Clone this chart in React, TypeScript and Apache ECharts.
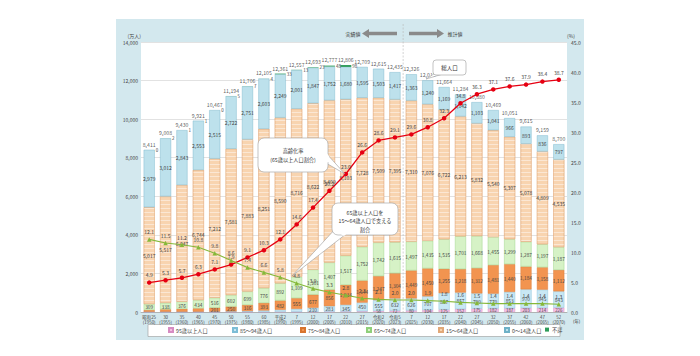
import React, { useEffect, useRef } from 'react';
import * as echarts from 'echarts';

const categories = [
  '昭和25\n(1950)', '30\n(1955)', '35\n(1960)', '40\n(1965)', '45\n(1970)', '50\n(1975)',
  '55\n(1980)', '60\n(1985)', '平成2\n(1990)', '7\n(1995)', '12\n(2000)', '17\n(2005)',
  '22\n(2010)', '27\n(2015)', '令和2\n(2020)', '令和5\n(2023)', '7\n(2025)', '12\n(2030)',
  '17\n(2035)', '22\n(2040)', '27\n(2045)', '32\n(2050)', '37\n(2055)', '42\n(2060)',
  '47\n(2065)', '52\n(2070)',
];

const age95plus = [0, 0, 0, 0, 1, 1, 2, 3, 5, 9, 13, 21, 28, 38, 58, 72, 80, 104, 125, 152, 175, 182, 187, 203, 214, 226];
const age85to94 = [10, 12, 14, 17, 22, 33, 48, 75, 110, 153, 210, 283, 345, 450, 555, 632, 626, 707, 857, 857, 790, 770, 853, 970, 945, 843];
const age75to84 = [96, 127, 149, 172, 201, 250, 316, 393, 482, 555, 677, 856, 1034, 1144, 1247, 1304, 1449, 1450, 1255, 1218, 1312, 1481, 1440, 1184, 1158, 1112];
const age65to74 = [309, 338, 376, 434, 516, 602, 699, 776, 892, 1109, 1301, 1407, 1517, 1752, 1742, 1615, 1497, 1435, 1535, 1701, 1668, 1455, 1299, 1287, 1197, 1187];
const age15to64 = [5017, 5517, 6047, 6744, 7212, 7581, 7883, 8251, 8590, 8716, 8622, 8409, 8103, 7728, 7509, 7395, 7310, 7076, 6722, 6213, 5832, 5540, 5307, 5078, 4809, 4535];
const age0to14 = [2979, 3012, 2843, 2553, 2515, 2722, 2751, 2603, 2249, 2001, 1847, 1752, 1680, 1595, 1503, 1417, 1363, 1240, 1169, 1142, 1103, 1041, 966, 893, 836, 797];
const ageUnknown = [0, 2, 1, 1, 0, 5, 7, 4, 33, 13, 23, 48, 98, 0, 0, 0, 0, 0, 0, 0, 0, 0, 0, 0, 0, 0];
const totals = [8411, 9008, 9430, 9921, 10467, 11194, 11706, 12105, 12361, 12557, 12693, 12777, 12806, 12709, 12615, 12435, 12326, 12012, 11664, 11284, 10880, 10469, 10051, 9615, 9159, 8700];
const agingRate = [4.9, 5.3, 5.7, 6.3, 7.1, 7.9, 9.1, 10.3, 12.1, 14.6, 17.4, 20.2, 23.0, 26.6, 28.6, 29.1, 29.6, 30.8, 32.3, 34.8, 36.3, 37.1, 37.6, 37.9, 38.4, 38.7];
const supportRatio = [12.1, 11.5, 11.2, 10.8, 9.8, 8.6, 7.4, 6.6, 5.8, 4.8, 3.9, 3.3, 2.8, 2.3, 2.1, 2.0, 2.0, 1.9, 1.8, 1.6, 1.5, 1.4, 1.4, 1.4, 1.4, 1.3];

const FONT = '"Noto Sans CJK JP", "Noto Sans", sans-serif';
const fmt = (v: number) => Number(v).toLocaleString('en-US');

function barSeries(name: string, data: number[], color: string, border: string, threshold: number, decal?: any, fontSize = 5) {
  return {
    name,
    type: 'bar',
    stack: 'pop',
    data,
    barWidth: 11,
    itemStyle: { color, borderColor: border, borderWidth: 0.4, decal },
    label: {
      show: true,
      position: 'inside',
      fontSize,
      color: '#444',
      fontFamily: FONT,
      formatter: (p: any) => (p.value >= threshold ? fmt(p.value) : ''),
    },
    emphasis: { disabled: true },
  };
}

export default function App() {
  const ref = useRef<HTMLDivElement>(null);

  useEffect(() => {
    document.body.style.margin = '0';
    const chart = echarts.init(ref.current as HTMLDivElement, null, { renderer: 'svg' });
    const legendNames = ['95歳以上人口', '85～94歳人口', '75～84歳人口', '65～74歳人口', '15～64歳人口', '0～14歳人口', '不詳'];
    const legendLefts = [168, 232, 300, 366, 438, 504, 545];
    const option: any = {
      animation: false,
      textStyle: { fontFamily: FONT },
      grid: { left: 141, right: 133, top: 42, bottom: 44, show: true, backgroundColor: '#ffffff', borderWidth: 0 },
      legend: legendNames.map((n, i) => ({
        data: [n],
        left: legendLefts[i],
        top: 327,
        itemWidth: 4,
        itemHeight: 4,
        itemGap: 2,
        icon: 'rect',
        padding: 0,
        z: 10,
        textStyle: { fontSize: 5.2, color: '#444', fontFamily: FONT, padding: [0, 0, 0, -2] },
      })),
      xAxis: {
        type: 'category',
        data: categories,
        axisTick: { show: false },
        axisLine: { show: true, lineStyle: { color: '#999', width: 0.6 } },
        axisLabel: { interval: 0, fontSize: 4.4, lineHeight: 5.5, color: '#444', margin: 2, fontFamily: FONT },
      },
      yAxis: [
        {
          type: 'value', min: 0, max: 14000, interval: 2000,
          name: '(万人)', nameLocation: 'end', nameGap: 4,
          nameTextStyle: { fontSize: 5, color: '#444', align: 'right', fontFamily: FONT },
          axisLine: { show: false }, axisTick: { show: false },
          axisLabel: { fontSize: 5, color: '#444', margin: 3, formatter: (v: number) => fmt(v) },
          splitLine: { lineStyle: { color: '#cfcfcf', width: 0.6 } },
        },
        {
          type: 'value', min: 0, max: 45, interval: 5,
          name: '(%)', nameLocation: 'end', nameGap: 4,
          nameTextStyle: { fontSize: 5, color: '#444', align: 'left', fontFamily: FONT },
          axisLine: { show: false }, axisTick: { show: false },
          axisLabel: { fontSize: 5, color: '#444', margin: 4, formatter: (v: number) => v.toFixed(1) },
          splitLine: { show: false },
        },
      ],
      series: [
        barSeries('95歳以上人口', age95plus, '#f4bfe4', '#d68cc2', 50, undefined, 4.4),
        barSeries('85～94歳人口', age85to94, '#c8e7f4', '#7cbdd6', 200, undefined, 4.8),
        barSeries('75～84歳人口', age75to84, '#f29450', '#d8742e', 200, undefined, 4.8),
        barSeries('65～74歳人口', age65to74, '#d6f2c6', '#8fcf7a', 200, undefined, 4.8),
        barSeries('15～64歳人口', age15to64, '#f8d4b0', '#e2a878', 200,
          { symbol: 'rect', symbolSize: 1, dashArrayX: [1, 0], dashArrayY: [1, 3], color: 'rgba(255,255,255,0.45)' }),
        barSeries('0～14歳人口', age0to14, '#bde1ec', '#6eb1c7', 200),
        {
          name: '不詳', type: 'bar', stack: 'pop', data: ageUnknown, barWidth: 11,
          itemStyle: { color: '#2e9b5a' },
          emphasis: { disabled: true },
          label: {
            show: true, position: 'right', distance: 1, fontSize: 4.5, color: '#444',
            formatter: (p: any) => (p.dataIndex <= 12 ? String(p.value) : ''),
          },
        },
        {
          name: '総人口', type: 'scatter', data: totals, symbolSize: 0, z: 5,
          label: { show: true, position: 'top', distance: 3, fontSize: 5.2, color: '#333', formatter: (p: any) => fmt(p.value) },
          emphasis: { disabled: true },
        },
        {
          name: '高齢化率', type: 'line', yAxisIndex: 1, data: agingRate, z: 6,
          symbol: 'circle', symbolSize: 4.5,
          lineStyle: { color: '#e60012', width: 1.3 },
          itemStyle: { color: '#e60012' },
          label: { show: true, position: 'top', distance: 3, fontSize: 5, color: '#444', formatter: (p: any) => p.value.toFixed(1) },
          emphasis: { disabled: true },
        },
        {
          name: '支える割合', type: 'line', yAxisIndex: 1, data: supportRatio, z: 6,
          symbol: 'triangle', symbolSize: 4.5,
          lineStyle: { color: '#86b83a', width: 1.1 },
          itemStyle: { color: '#86b83a' },
          label: { show: true, position: 'top', distance: 3, fontSize: 5, color: '#444', formatter: (p: any) => p.value.toFixed(1) },
          emphasis: { disabled: true },
        },
      ],
    };
    chart.setOption(option);

    const xa = chart.convertToPixel({ xAxisIndex: 0 }, categories[15]) as number;
    const xb = chart.convertToPixel({ xAxisIndex: 0 }, categories[16]) as number;
    const xd = (xa + xb) / 2;
    const yBot = chart.convertToPixel({ yAxisIndex: 0 }, 0) as number;
    const ay = 33.5;
    const gray = '#8a8a8a';
    const calloutStroke = '#9a9a9a';
    const txt = (x: number, y: number, s: string, size = 5.5, extra: any = {}) => ({
      type: 'text', x, y, z: 120,
      style: { text: s, fontSize: size, fill: '#333', fontFamily: FONT, align: 'center', verticalAlign: 'middle', ...extra },
    });

    chart.setOption({
      graphic: [
        { type: 'rect', z: -2, shape: { x: 116, y: 19, width: 468, height: 321 }, style: { fill: '#d3e8ee' } },
        { type: 'rect', z: -1, shape: { x: 148, y: 324.5, width: 412, height: 12 }, style: { fill: '#ffffff', stroke: '#999', lineWidth: 0.6 } },
        { type: 'line', z: 1, shape: { x1: xd, y1: 24, x2: xd, y2: yBot }, style: { stroke: '#b5b5b5', lineWidth: 0.6, lineDash: [2, 1.5] } },
        {
          type: 'polygon', z: 1,
          shape: { points: [[362, ay], [369, ay - 4.5], [369, ay - 1.8], [397, ay - 1.8], [397, ay + 1.8], [369, ay + 1.8], [369, ay + 4.5]] },
          style: { fill: gray },
        },
        {
          type: 'polygon', z: 1,
          shape: { points: [[444, ay], [437, ay - 4.5], [437, ay - 1.8], [409, ay - 1.8], [409, ay + 1.8], [437, ay + 1.8], [437, ay + 4.5]] },
          style: { fill: gray },
        },
        txt(353, ay, '実績値', 5),
        txt(455, ay, '推計値', 5),
        txt(573, 320.5, '(年)', 4.4, { align: 'left' }),
        { type: 'polygon', z: 110, shape: { points: [[437, 72], [426, 79], [443, 74]] }, style: { fill: '#fff', stroke: calloutStroke, lineWidth: 0.6 } },
        { type: 'rect', z: 111, shape: { x: 433, y: 60, width: 33, height: 15, r: 3 }, style: { fill: '#fff', stroke: calloutStroke, lineWidth: 0.6 } },
        { type: 'polygon', z: 112, shape: { points: [[437.5, 74], [443, 74], [437, 72.6]] }, style: { fill: '#fff' } },
        txt(449.5, 67.5, '総人口', 5.5),
        { type: 'polygon', z: 110, shape: { points: [[326, 153], [345, 174], [326, 163]] }, style: { fill: '#fff', stroke: calloutStroke, lineWidth: 0.6 } },
        { type: 'rect', z: 111, shape: { x: 258, y: 138, width: 70, height: 34, r: 6 }, style: { fill: '#fff', stroke: calloutStroke, lineWidth: 0.6 } },
        { type: 'polygon', z: 112, shape: { points: [[327, 153.6], [329, 156], [329, 162], [327, 162.4]] }, style: { fill: '#fff' } },
        txt(293, 150, '高齢化率', 5.2),
        txt(293, 159, '(65歳以上人口割合)', 5.2),
        { type: 'polygon', z: 110, shape: { points: [[336, 228], [292, 276], [346, 234]] }, style: { fill: '#fff', stroke: calloutStroke, lineWidth: 0.6 } },
        { type: 'rect', z: 111, shape: { x: 332, y: 203, width: 66, height: 32, r: 6 }, style: { fill: '#fff', stroke: calloutStroke, lineWidth: 0.6 } },
        { type: 'polygon', z: 112, shape: { points: [[334, 230], [337, 227], [347, 233.5], [344, 236]] }, style: { fill: '#fff' } },
        txt(365, 212, '65歳以上人口を', 5.2),
        txt(365, 220.5, '15～64歳人口で支える', 5.2),
        txt(365, 229, '割合', 5.2),
      ],
    });

    return () => chart.dispose();
  }, []);

  return <div ref={ref} style={{ width: 700, height: 356 }} />;
}
